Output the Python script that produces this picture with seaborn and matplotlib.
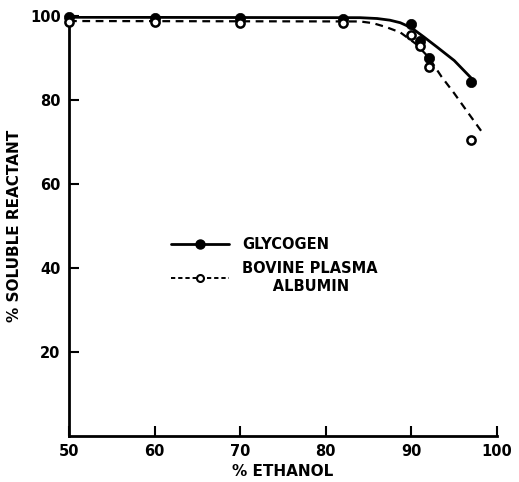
import matplotlib
matplotlib.use("Agg")
import matplotlib.pyplot as plt
import seaborn as sns
import pandas as pd
from matplotlib.lines import Line2D

# measured points
ethanol_pts = [50, 60, 70, 82, 90, 91, 92, 97]
glycogen_pts = [99.7, 99.6, 99.6, 99.4, 98.1, 94.0, 90.0, 84.3]
bpa_pts = [98.6, 98.5, 98.4, 98.4, 95.5, 92.9, 87.9, 70.5]

# fitted curves
glyc_curve_x = [50, 84, 86, 87.5, 88.7, 90, 91.4, 93, 95, 97]
glyc_curve_y = [99.7, 99.6, 99.4, 99.0, 98.4, 97.2, 95.1, 92.6, 89.4, 85.2]
bpa_curve_x = [50, 84, 85.5, 87, 88.7, 90.5, 92, 93.5, 95, 96.5, 98.2]
bpa_curve_y = [98.8, 98.7, 98.3, 97.4, 96.1, 93.4, 90.2, 85.6, 81.6, 77.3, 72.5]

xticks = [50, 60, 70, 80, 90, 100]
yticks = [20, 40, 60, 80, 100]

sns.set_style("ticks")
plt.rcParams['font.family'] = ['DejaVu Sans']
plt.rcParams['font.weight'] = 'bold'
for k in ['text.color', 'axes.labelcolor', 'xtick.color', 'ytick.color', 'axes.edgecolor']:
    plt.rcParams[k] = 'black'

fig = plt.figure(figsize=(5.19, 4.82), dpi=100)
ax = fig.add_axes([69/519, 46/482, 428/519, 420/482])

gc = pd.DataFrame({"x": glyc_curve_x, "y": glyc_curve_y})
bc = pd.DataFrame({"x": bpa_curve_x, "y": bpa_curve_y})
sns.lineplot(data=gc, x="x", y="y", ax=ax, color="black", lw=2.0, sort=False)
sns.lineplot(data=bc, x="x", y="y", ax=ax, color="black", lw=1.6, sort=False,
             linestyle=(0, (3.5, 2.5)))

pts = pd.DataFrame({"x": ethanol_pts, "g": glycogen_pts, "b": bpa_pts})
sns.scatterplot(data=pts, x="x", y="g", ax=ax, color="black", s=55,
                edgecolor="black", linewidth=0.5, zorder=5, clip_on=False)
sns.scatterplot(data=pts, x="x", y="b", ax=ax, color="white", s=35,
                edgecolor="black", linewidth=1.8, zorder=6, clip_on=False)

ax.set_xlim(50, 100)
ax.set_ylim(0, 100)
ax.set_xticks(xticks)
ax.set_yticks(yticks)
ax.set_xticklabels([str(t) for t in xticks], fontsize=10.5, fontweight='bold')
ax.set_yticklabels([str(t) for t in yticks], fontsize=10.5, fontweight='bold')
ax.tick_params(direction='in', length=7, width=1.5, pad=6)
for s in ["top", "right"]:
    ax.spines[s].set_visible(False)
for s in ["left", "bottom"]:
    ax.spines[s].set_linewidth(2.0)

ax.set_xlabel("% ETHANOL", fontsize=11, fontweight='bold', labelpad=3)
ax.set_ylabel("% SOLUBLE REACTANT", fontsize=11, fontweight='bold', labelpad=6)

handles = [
    Line2D([], [], color="black", lw=2.0, marker="o", markersize=6.5,
           markerfacecolor="black"),
    Line2D([], [], color="black", lw=1.4, linestyle=(0, (2.2, 1.5)), marker="o",
           markersize=5, markerfacecolor="white", markeredgewidth=1.5),
]
leg = ax.legend(handles, ["GLYCOGEN", "BOVINE PLASMA\n      ALBUMIN"],
                loc="upper left", bbox_to_anchor=(0.207, 0.504), frameon=False,
                handlelength=4.0, handletextpad=0.9, labelspacing=0.6,
                prop={"size": 10.5, "weight": "bold"})

fig.savefig("out.png", dpi=100)
